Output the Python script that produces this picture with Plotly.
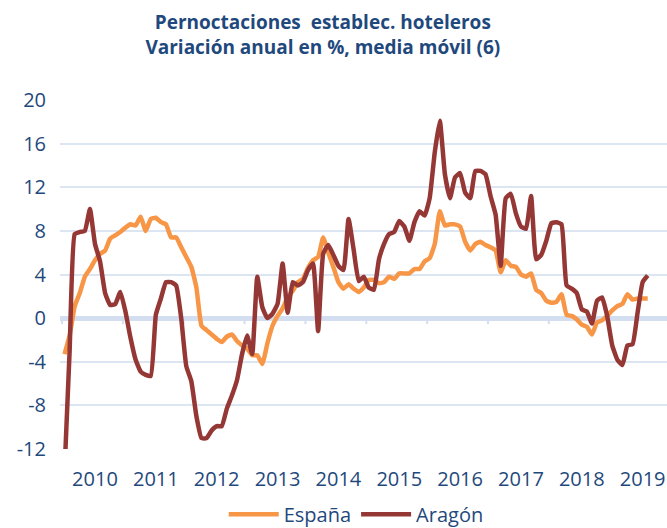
import pandas as pd
import plotly.graph_objects as go

# Monthly series, July 2009 - February 2019
months = pd.date_range("2009-07-01", periods=116, freq="MS")

espana = [
    -3.3, -1.6, 1.1, 2.3, 3.8, 4.5, 5.3, 5.9, 6.2, 7.3,
    7.6, 7.9, 8.3, 8.6, 8.5, 9.3, 8.0, 9.1, 9.2, 8.8,
    8.6, 7.4, 7.4, 6.5, 5.6, 4.7, 2.8, -0.7, -1.1, -1.5,
    -1.9, -2.2, -1.7, -1.5, -2.1, -2.5, -2.8, -3.4, -3.4, -4.2,
    -2.3, -0.7, 0.2, 0.9, 1.9, 2.5, 3.3, 3.6, 4.6, 5.3,
    5.6, 7.4, 6.0, 4.7, 3.3, 2.7, 3.1, 2.7, 2.4, 2.8,
    3.5, 3.5, 3.2, 3.3, 3.8, 3.6, 4.1, 4.1, 4.1, 4.5,
    4.5, 5.2, 5.5, 6.8, 9.8, 8.5, 8.6, 8.6, 8.4, 7.0,
    6.2, 6.8, 7.0, 6.7, 6.5, 6.2, 4.2, 5.3, 4.8, 4.7,
    4.0, 3.8, 4.1, 2.6, 2.3, 1.6, 1.4, 1.5, 2.2, 0.3,
    0.2, -0.1, -0.6, -0.8, -1.5, -0.4, -0.2, 0.2, 0.7, 1.1,
    1.3, 2.2, 1.7, 1.8, 1.8, 1.8,
]

aragon = [
    -14.0, -3.0, 7.7, 7.9, 8.0, 10.0, 6.8, 5.2, 2.3, 1.2,
    1.3, 2.4, 0.6, -1.8, -3.8, -4.9, -5.2, -5.3, 0.3, 1.8,
    3.3, 3.3, 3.0, 0.0, -4.4, -5.8, -9.0, -11.0, -11.0, -10.3,
    -9.9, -9.9, -8.3, -7.1, -5.7, -3.3, -1.6, -3.3, 3.8, 1.0,
    0.0, 0.4, 1.3, 5.0, 0.5, 3.3, 3.0, 3.3, 4.4, 5.0,
    -1.2, 5.9, 6.7, 5.8, 4.8, 4.4, 9.1, 6.3, 3.4, 3.8,
    2.8, 2.6, 5.4, 6.8, 7.7, 7.9, 8.9, 8.4, 7.1, 8.8,
    9.8, 9.4, 11.0, 15.2, 18.1, 13.2, 11.0, 12.9, 13.3, 11.5,
    11.0, 13.5, 13.5, 13.2, 11.2, 9.5, 4.8, 11.0, 11.4, 9.6,
    8.4, 8.2, 11.2, 5.4, 5.8, 7.1, 8.7, 8.8, 8.6, 3.0,
    2.7, 2.3, 0.8, 0.6, -0.5, 1.6, 1.9, 0.2, -2.5, -3.8,
    -4.3, -2.5, -2.4, 0.5, 3.3, 3.9,
]

y_ticks = [-12, -8, -4, 0, 4, 8, 12, 16, 20]
y_labels = ["-12", "-8", "-4", "0", "4", "8", "12", "16", "20"]

title_lines = ["Pernoctaciones  establec. hoteleros",
               "Variación anual en %, media móvil (6)"]

idx = list(range(len(months)))
year_pos = [i for i, m in enumerate(months) if m.month == 1]
year_txt = [str(months[i].year) for i in year_pos]
group_edges = [i - 0.5 for i, m in enumerate(months) if m.month == 7]

TXT = "#1F497D"
GRID = "#DCE6F2"
FONT = "Open Sans"

fig = go.Figure()
fig.add_trace(go.Scatter(x=idx, y=espana, name="España", mode="lines",
                         line=dict(color="#F79646", width=4.5, shape="spline", smoothing=0.4)))
fig.add_trace(go.Scatter(x=idx, y=aragon, name="Aragón", mode="lines",
                         line=dict(color="#953735", width=4.5, shape="spline", smoothing=0.4)))

for e in group_edges:
    fig.add_shape(type="line", xref="x", yref="y", x0=e, x1=e,
                  ysizemode="pixel", yanchor=0, y0=0, y1=-6,
                  line=dict(color="#D3DFF0", width=2), layer="below")

fig.update_layout(
    width=667, height=528,
    margin=dict(l=60, r=0, t=100, b=79),
    paper_bgcolor="white", plot_bgcolor="white",
    font=dict(family=FONT, color=TXT, size=20),
    title=dict(text="<b>" + title_lines[0] + "</b><br><b>" + title_lines[1] + "</b>",
               x=0.484, xref="container", xanchor="center",
               y=0.945, yref="container", yanchor="top",
               font=dict(family=FONT, size=19, color=TXT)),
    showlegend=True,
    legend=dict(orientation="h", x=0.488, xanchor="center", xref="paper",
                y=0.026, yref="container", yanchor="middle",
                font=dict(size=20, color=TXT), itemwidth=50),
    xaxis=dict(range=[-0.9, 118.8], tickvals=year_pos, ticktext=year_txt,
               showgrid=False, zeroline=False, showline=False, ticks="",
               automargin=False,
               ticklabelstandoff=16, tickfont=dict(size=20, color=TXT)),
    yaxis=dict(range=[-12, 20], tickvals=y_ticks, ticktext=y_labels, showgrid=True,
               gridcolor=GRID, gridwidth=2, zeroline=True, zerolinecolor="#D3DFF0",
               zerolinewidth=5, showline=False, ticks="", automargin=False,
               ticklabelstandoff=13, tickfont=dict(size=20, color=TXT)),
)

fig.write_html("out.html", config={"displayModeBar": False},
               post_script="document.body.style.margin='0';")
